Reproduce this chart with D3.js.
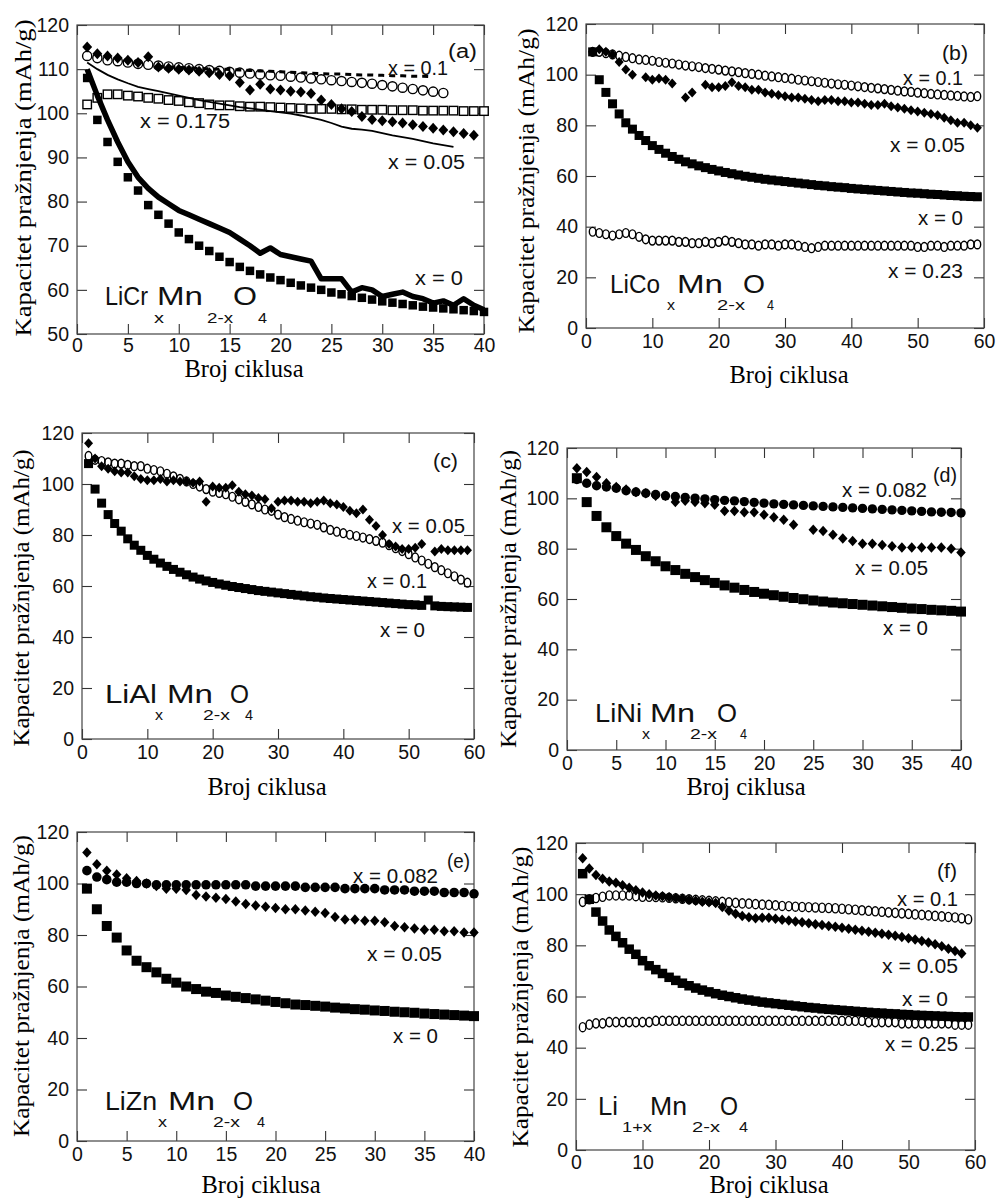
<!DOCTYPE html>
<html><head><meta charset="utf-8">
<script src="https://cdnjs.cloudflare.com/ajax/libs/d3/7.8.5/d3.min.js"></script>
<style>body{margin:0;background:#fff}svg{display:block}</style>
</head><body><svg id="c" width="1003" height="1200"></svg>
<script>
// ---------- tick labels ----------
const xTicks40 = [0,5,10,15,20,25,30,35,40];
const xTicks60 = [0,10,20,30,40,50,60];
const yTicksA = [50,60,70,80,90,100,110,120];
const yTicks120 = [0,20,40,60,80,100,120];

// ---------- texts ----------
const yTitleText = "Kapacitet pražnjenja (mAh/g)";
const xTitleText = "Broj ciklusa";

// ---------- panel (a) LiCrxMn2-xO4, values by cycle 1..n ----------
const a_x0 = [108,98.5,93.5,89,85.5,82.5,79.2,77,75,73,71.5,70,68.8,67.5,66.3,65.2,64.3,63.5,62.8,62.2,61.6,61,60.5,60,59.4,59,58.6,58.2,57.8,57.4,57.1,56.8,56.5,56.2,56,55.8,55.6,55.4,55.2,55];
const a_thick = [110,104,98.5,93.5,89,85.5,83,81,79.5,78,77,76,75,74,73,71.5,70,68.3,69.5,68,67.5,67,66.5,62.5,62.5,62.5,59.5,60.5,60,58.5,59,59.5,58.5,58,57,57.5,56.5,58,56.5,55.5];
const a_thin = [111.5,110,108.7,107.7,106.8,106,105.5,105,104.5,104,103.5,103,102.6,102.2,101.8,101.4,101.1,100.8,100.5,100.2,99.9,99.5,99,98.5,97.8,97,96.5,96.3,96,95.5,95,94.6,94.2,93.7,93.2,92.8,92.4];
const a_x0175 = [102,103.5,104.3,104.3,104,103.8,103.5,103.3,103,102.8,102.5,102.3,102,101.8,101.8,101.6,101.5,101.5,101.4,101.3,101.2,101.1,101,101,101,100.9,100.9,100.8,100.8,100.8,100.7,100.7,100.7,100.6,100.6,100.6,100.6,100.5,100.5,100.5];
const a_x01 = [113,112.5,112,111.8,111.5,111.2,111,110.8,110.6,110.4,110.2,110,109.8,109.6,109.4,109.2,109,108.8,108.6,108.5,108.3,108.1,107.9,107.7,107.5,107.3,107.1,106.9,106.7,106.4,106.1,105.8,105.5,105.2,104.9,104.6];
const a_dash = [null,null,null,null,null,null,null,110.6,110.5,110.4,110.3,110.2,110.1,110,109.9,109.8,109.7,109.6,109.5,109.4,109.3,109.2,109.1,109,108.9,108.9,108.8,108.7,108.7,108.6,108.5,108.5,108.4,108.4,108.3];
const a_x005 = [115,113.5,113,112.5,112,111.5,112.8,110.5,110.2,110,109.8,109.5,109.2,108.8,108.5,107,105.3,106.6,105.5,105.3,105,104.8,104.5,103,102,101,100.4,99.3,98.6,98.3,98.1,97.8,97.4,97,96.6,96.2,95.8,95.4,95];

// ---------- panel (b) LiCoxMn2-xO4 ----------
const b_x01 = [109,109,108.5,108,107.5,107,106.5,106,105.8,105.5,105,104.7,104.4,104,103.6,103.3,103,102.6,102.3,102,101.6,101.3,101,100.6,100.3,100,99.6,99.3,99,98.7,98.4,98,97.7,97.4,97.1,96.8,96.5,96.2,96,95.7,95.4,95.1,94.8,94.6,94.3,94,93.7,93.4,93.2,92.9,92.7,92.4,92.2,92,91.8,91.6,91.4,91.2,91.5];
const b_x005 = [109,110,109,108,105,102,100,null,99,98,98.5,98,96.5,null,91,93,null,96,95,95,95.5,97,95.5,95,94,94,93,92.5,92,91.5,91,91,90.5,90,89.5,90,90,89.5,89.5,89,89,88.5,88,88,88.5,87.5,87,86.5,86,85.5,85,84.5,84,83,82,81,81,80,79];
const b_x0 = [109,98,93,88.5,84.5,81,78.5,76,74,72,70.5,69,67.7,66.6,65.6,64.8,64,63.3,62.6,62,61.4,60.9,60.4,59.9,59.5,59.1,58.7,58.4,58.1,57.8,57.5,57.2,56.9,56.6,56.3,56.1,55.8,55.6,55.4,55.1,54.9,54.7,54.5,54.3,54.1,53.9,53.7,53.5,53.3,53.2,53,52.8,52.7,52.5,52.3,52.2,52,51.9,51.8];
const b_x023 = [38,37.5,37,36.5,37,37.5,37,36,35,34.5,34.5,34.5,34.5,34,34,33.5,33.5,34,33.5,34,34.5,34,33.5,33,33,32.5,33,33,32.5,33,33,32.5,32,31.5,32,32.5,32.5,32.5,32.5,32.5,32.5,32.5,32.5,32.5,32.5,32.5,32.5,32.5,32.5,32,32,32.5,32.5,32,32.5,32.5,32.5,33,33];

// ---------- panel (c) LiAlxMn2-xO4 ----------
const c_x0 = [108,98,92.5,88,84.5,81.5,78.5,76,74,72,70.5,69,67.7,66.5,65.4,64.4,63.5,62.7,62,61.4,60.8,60.3,59.8,59.4,59,58.6,58.2,57.9,57.6,57.3,57,56.7,56.4,56.1,55.8,55.6,55.3,55.1,54.9,54.7,54.5,54.3,54.1,53.9,53.7,53.5,53.3,53.1,52.9,52.7,52.6,52.4,54.5,52.2,52,51.9,51.8,51.7,51.6];
const c_x01 = [111,109.5,109,108.5,108,108,107.5,107,107,106,105.5,105,104,103,102,101,100,99,98,97,96.5,96,95,94,93,92,91,90,89.5,88,87,86.3,85.6,85,84.5,84,83,82,81.3,80.7,80.1,79.6,79,78.4,77.7,77,76,74.8,73.7,72.5,71.2,70,68.7,67.4,66.2,65,63.8,62.5,61.3];
const c_x005 = [116,110,107,106,105,104.5,104.5,103,102,101.5,101.5,102,101,101.5,101,101,100.5,101,93,99,98.5,98.5,99.5,97,96,95.5,94.5,94,90.5,93,93.5,93.5,93,93,92.5,93,93.5,92.5,92,91,89.5,88.5,90,86,83.5,80,76.5,75.5,74.5,74.5,75,76.5,null,73.5,74.5,74,74,74,74];

// ---------- panel (d) LiNixMn2-xO4 ----------
const d_x0082 = [107.5,106,105,104.5,104,103,102.5,102,101.5,101,100.7,100.4,100.1,99.8,99.5,99.2,99,98.7,98.4,98.1,97.8,97.6,97.4,97.2,97,96.8,96.6,96.4,96.2,96,95.8,95.6,95.4,95.2,95,94.8,94.6,94.5,94.4,94.2];
const d_x005 = [112,110.5,108.5,106,104.5,103.5,102.5,102,101,101,98.5,99,98.5,98,97.5,95,95,94.5,94.5,93.5,92.5,91.5,89.5,null,87.5,87,85.5,84,83,82,82,81.5,81,80.5,80.5,80.5,80.5,80.5,80,78.5];
const d_x0 = [108,98.5,93,88.5,85,82,79.5,77,75,73,71.5,70,68.7,67.5,66.4,65.4,64.5,63.6,62.8,62.1,61.5,60.9,60.4,59.9,59.4,59,58.6,58.3,58,57.7,57.4,57.1,56.8,56.5,56.2,56,55.7,55.5,55.3,55];

// ---------- panel (e) LiZnxMn2-xO4 ----------
const e_x0082 = [105,102.5,101.5,100.5,100.5,100,100,99.5,99.5,99.5,99.5,99.5,99.5,99.5,99.5,99.5,99.5,99,99,99,99,99,98.5,98.5,98.5,98.5,98,98,98,98,97.5,97.5,97.5,97,97,97,96.5,96.5,96.5,96];
const e_x005 = [112,107.5,105,103.5,102,101,100,99,98,98,97.5,95.5,95,94.5,94,93,92,91.5,91,90.5,90,90,89.5,89,88.5,87,86,86,85.5,85.5,85,83.5,83,82.5,82,82,81.5,81.5,81,81];
const e_x0 = [98,90,83.5,79,74,70,67.5,65.5,63,61.5,60,59,58,57.5,56.5,56,55.5,55,54.5,54,53.5,53,52.8,52.5,52.2,51.8,51.5,51.2,51,50.7,50.5,50.2,50,49.8,49.5,49.3,49.1,48.9,48.7,48.5];

// ---------- panel (f) Li1+xMn2-xO4 ----------
const f_x01 = [97,98,98.5,99,99.5,99.5,99.5,99.5,99.2,99,99,98.9,98.8,98.6,98.4,98.2,98,97.8,97.6,97.4,97.2,97,96.8,96.6,96.4,96.3,96.1,95.9,95.8,95.6,95.4,95.3,95.1,95,94.9,94.8,94.7,94.6,94.5,94.3,94.1,93.9,93.7,93.5,93.3,93.1,92.9,92.7,92.5,92.3,92.1,91.9,91.7,91.5,91.3,91.1,90.9,90.6,90.2];
const f_x005 = [114,110,107.5,106,105,104.5,103.5,102.5,101.5,100.7,100,99.5,99.2,98.8,98.5,98.2,97.8,97.4,97,96.8,96.5,95,93.5,92.3,91.5,91,90.6,90.8,90.8,90.4,90,89.7,89.3,89,88.6,88.2,87.9,87.6,87.3,86.9,86.5,86.1,85.7,85.3,84.9,84.5,84.1,83.7,83.3,82.8,82.3,81.7,81.1,80.4,79.6,78.7,77.8,76.8];
const f_x0 = [108,98,93,89.5,86,83.5,81,78.5,76.5,74,72,70.5,69,67.5,66.3,65.2,64.2,63.3,62.5,61.8,61.1,60.5,60,59.5,59,58.6,58.2,57.8,57.5,57.2,56.9,56.6,56.3,56,55.7,55.5,55.2,55,54.8,54.6,54.4,54.2,54,53.8,53.6,53.5,53.3,53.2,53,52.9,52.7,52.6,52.5,52.4,52.3,52.2,52.1,52,52];
const f_x025 = [48,49,49.5,49.5,50,50,50,50,50,50,50,50.5,50.5,50.5,50.5,50.5,50.5,50.5,50.5,50.5,50.5,50.5,50.5,50.5,50.5,50.5,50.5,50.5,50.5,50.5,50.5,50.5,50.5,50.5,50.5,50.5,50.5,50.5,50.5,50.5,50.5,50.5,50.5,50,50,50,50,50,49.5,49.5,49.5,49.5,49.5,49.5,49.5,49.5,49,49,49];

// ---------- layout ----------
const SANS = "'Liberation Sans', Arial, Helvetica, sans-serif";
const SERIF = "'Liberation Serif', 'Times New Roman', serif";

const panels = [
 {left:77, right:484, top:25, bottom:334, xMax:40, xTicks:xTicks40, yDomain:[50,120], yTicks:yTicksA, xPad:4,
  series:[
   {data:a_x0175, type:'osq', s:8.5},
   {data:a_x01, type:'oc', rx:4.6, ry:4.6},
   {data:a_dash, type:'dash'},
   {data:a_thin, type:'thin'},
   {data:a_x005, type:'dia', s:11},
   {data:a_thick, type:'thick'},
   {data:a_x0, type:'sq', s:8.5}],
  labels:[['(a)',448,477,58],['x = 0.1',388,448,75],['x = 0.175',140,230,128],['x = 0.05',388,465,169],['x = 0',415,463,285]],
  formula:[['LiCr',105,148,305,0],['Mn',157,203,305,0],['O',233,257,305,0],['x',154,164,323,1],['2-x',207,233,323,1],['4',258,267,323,1]],
  xTitle:[244,377], yTitle:[23,178,317]},
 {left:586, right:984, top:24, bottom:328, xMax:60, xTicks:xTicks60, yDomain:[0,120], yTicks:yTicks120, xPad:6,
  series:[
   {data:b_x01, type:'oc', rx:3.3, ry:4.4},
   {data:b_x023, type:'oc', rx:3.3, ry:4.4},
   {data:b_x005, type:'dia', s:10},
   {data:b_x0, type:'sq', s:9}],
  labels:[['(b)',942,968,60],['x = 0.1',903,963,85],['x = 0.05',890,965,152],['x = 0',918,963,225],['x = 0.23',888,963,278]],
  formula:[['LiCo',610,660,293,0],['Mn',677,723,293,0],['O',743,765,293,0],['x',667,675,310,1],['2-x',717,745,310,1],['4',767,774,310,1]],
  xTitle:[789,383], yTitle:[526,181,305]},
 {left:82, right:474, top:433, bottom:739, xMax:60, xTicks:xTicks60, yDomain:[0,120], yTicks:yTicks120, xPad:6,
  series:[
   {data:c_x01, type:'oc', rx:3.3, ry:4.4},
   {data:c_x005, type:'dia', s:10},
   {data:c_x0, type:'sq', s:9}],
  labels:[['(c)',433,458,468],['x = 0.05',392,465,533],['x = 0.1',367,427,588],['x = 0',380,425,637]],
  formula:[['LiAl',105,157,703,0],['Mn',167,213,703,0],['O',230,249,703,0],['x',155,163,720,1],['2-x',203,230,720,1],['4',245,253,720,1]],
  xTitle:[267,795], yTitle:[21,598,297]},
 {left:567, right:961, top:448, bottom:750, xMax:40, xTicks:xTicks40, yDomain:[0,120], yTicks:yTicks120, xPad:6,
  series:[
   {data:d_x0082, type:'fc', r:4.7},
   {data:d_x005, type:'dia', s:10.5},
   {data:d_x0, type:'sq', s:10}],
  labels:[['(d)',933,957,482],['x = 0.082',842,927,497],['x = 0.05',855,928,575],['x = 0',883,928,635]],
  formula:[['LiNi',595,642,722,0],['Mn',650,695,722,0],['O',717,737,722,0],['x',642,650,739,1],['2-x',690,717,739,1],['4',740,747,739,1]],
  xTitle:[746,795], yTitle:[508,599,298]},
 {left:77, right:474, top:832, bottom:1141, xMax:40, xTicks:xTicks40, yDomain:[0,120], yTicks:yTicks120, xPad:6,
  series:[
   {data:e_x0082, type:'fc', r:4.8},
   {data:e_x005, type:'dia', s:10.5},
   {data:e_x0, type:'sq', s:10}],
  labels:[['(e)',447,470,868],['x = 0.082',353,438,883],['x = 0.05',367,442,961],['x = 0',393,438,1043]],
  formula:[['LiZn',105,157,1110,0],['Mn',168,215,1110,0],['O',233,253,1110,0],['x',158,167,1127,1],['2-x',213,240,1127,1],['4',257,265,1127,1]],
  xTitle:[261,1193], yTitle:[21,986,302]},
 {left:576, right:975, top:843, bottom:1150, xMax:60, xTicks:xTicks60, yDomain:[0,120], yTicks:yTicks120, xPad:5,
  series:[
   {data:f_x01, type:'oc', rx:3.3, ry:4.6},
   {data:f_x025, type:'oc', rx:3.3, ry:4.6},
   {data:f_x005, type:'dia', s:10.5},
   {data:f_x0, type:'sq', s:9.5}],
  labels:[['(f)',937,957,878],['x = 0.1',897,958,906],['x = 0.05',882,958,973],['x = 0',902,948,1006],['x = 0.25',885,958,1051]],
  formula:[['Li',598,618,1115,0],['Mn',650,687,1115,0],['O',720,738,1115,0],['1+x',622,652,1132,1],['2-x',692,720,1132,1],['4',739,748,1132,1]],
  xTitle:[769,1193], yTitle:[520,997,301]}
];

const svg = d3.select('#c');
svg.append('rect').attr('width',1003).attr('height',1200).attr('fill','#fff');

function pts(arr){ return arr.map((v,i)=>({c:i+1, v:v})).filter(d=>d.v!=null); }

panels.forEach(p => {
  const x = d3.scaleLinear().domain([0,p.xMax]).range([p.left,p.right]);
  const y = d3.scaleLinear().domain(p.yDomain).range([p.bottom,p.top]);
  const g = svg.append('g');

  const styleAxis = sel => {
    sel.select('.domain').remove();
    sel.selectAll('line').attr('stroke','#333').attr('stroke-width',1.1);
    sel.selectAll('text').attr('fill','#111').attr('font-family',SANS).attr('font-size',19.5);
  };
  g.append('g').attr('transform',`translate(0,${p.bottom})`)
    .call(d3.axisBottom(x).tickValues(p.xTicks).tickSize(-10).tickPadding(p.xPad).tickFormat(d3.format('d'))).call(styleAxis);
  g.append('g').attr('transform',`translate(0,${p.top})`)
    .call(d3.axisTop(x).tickValues(p.xTicks).tickSize(-10).tickFormat('')).call(styleAxis);
  g.append('g').attr('transform',`translate(${p.left},0)`)
    .call(d3.axisLeft(y).tickValues(p.yTicks).tickSize(-10).tickPadding(8).tickFormat(d3.format('d'))).call(styleAxis);
  g.append('g').attr('transform',`translate(${p.right},0)`)
    .call(d3.axisRight(y).tickValues(p.yTicks).tickSize(-10).tickFormat('')).call(styleAxis);

  g.append('rect').attr('x',p.left).attr('y',p.top).attr('width',p.right-p.left).attr('height',p.bottom-p.top)
    .attr('fill','none').attr('stroke','#444').attr('stroke-width',1.2);

  const line = d3.line().x(d=>x(d.c)).y(d=>y(d.v));
  p.series.forEach(s => {
    const d = pts(s.data);
    if (s.type==='thick') {
      g.append('path').datum(d).attr('d',line).attr('fill','none').attr('stroke','#000').attr('stroke-width',5.5).attr('stroke-linejoin','round');
    } else if (s.type==='thin') {
      g.append('path').datum(d).attr('d',line).attr('fill','none').attr('stroke','#000').attr('stroke-width',1.8);
    } else if (s.type==='dash') {
      g.append('path').datum(d).attr('d',line).attr('fill','none').attr('stroke','#000').attr('stroke-width',3).attr('stroke-dasharray','6,5');
    } else if (s.type==='sq' || s.type==='osq') {
      g.selectAll(null).data(d).join('rect')
        .attr('x',q=>x(q.c)-s.s/2).attr('y',q=>y(q.v)-s.s/2).attr('width',s.s).attr('height',s.s)
        .attr('fill',s.type==='sq'?'#000':'#fff').attr('stroke','#000').attr('stroke-width',s.type==='sq'?0:1.4);
    } else if (s.type==='oc') {
      g.selectAll(null).data(d).join('ellipse')
        .attr('cx',q=>x(q.c)).attr('cy',q=>y(q.v)).attr('rx',s.rx).attr('ry',s.ry)
        .attr('fill','none').attr('stroke','#000').attr('stroke-width',1.4);
    } else if (s.type==='fc') {
      g.selectAll(null).data(d).join('circle')
        .attr('cx',q=>x(q.c)).attr('cy',q=>y(q.v)).attr('r',s.r).attr('fill','#000');
    } else if (s.type==='dia') {
      const h = s.s/2;
      g.selectAll(null).data(d).join('path')
        .attr('d',q=>{const cx=x(q.c), cy=y(q.v); return `M${cx},${cy-h}L${cx+h*0.9},${cy}L${cx},${cy+h}L${cx-h*0.9},${cy}Z`;})
        .attr('fill','#000');
    }
  });

  p.labels.forEach(l => {
    g.append('text').text(l[0]).attr('x',l[1]).attr('y',l[3])
      .attr('font-family',SANS).attr('font-size',20).attr('fill','#111')
      .attr('textLength',l[2]-l[1]).attr('lengthAdjust','spacingAndGlyphs');
  });
  p.formula.forEach(f => {
    g.append('text').text(f[0]).attr('x',f[1]).attr('y',f[3])
      .attr('font-family',SANS).attr('font-size',f[4]?15:25).attr('fill','#111')
      .attr('textLength',f[2]-f[1]).attr('lengthAdjust','spacingAndGlyphs');
  });
  g.append('text').text(xTitleText).attr('x',p.xTitle[0]).attr('y',p.xTitle[1])
    .attr('text-anchor','middle').attr('font-family',SERIF).attr('font-size',24.5).attr('fill','#000');
  g.append('text').text(yTitleText)
    .attr('transform',`translate(${p.yTitle[0]},${p.yTitle[1]}) rotate(-90)`)
    .attr('text-anchor','middle').attr('dominant-baseline','central')
    .attr('font-family',SERIF).attr('font-size',24).attr('fill','#000')
    .attr('textLength',p.yTitle[2]).attr('lengthAdjust','spacingAndGlyphs');
});
</script></body></html>
